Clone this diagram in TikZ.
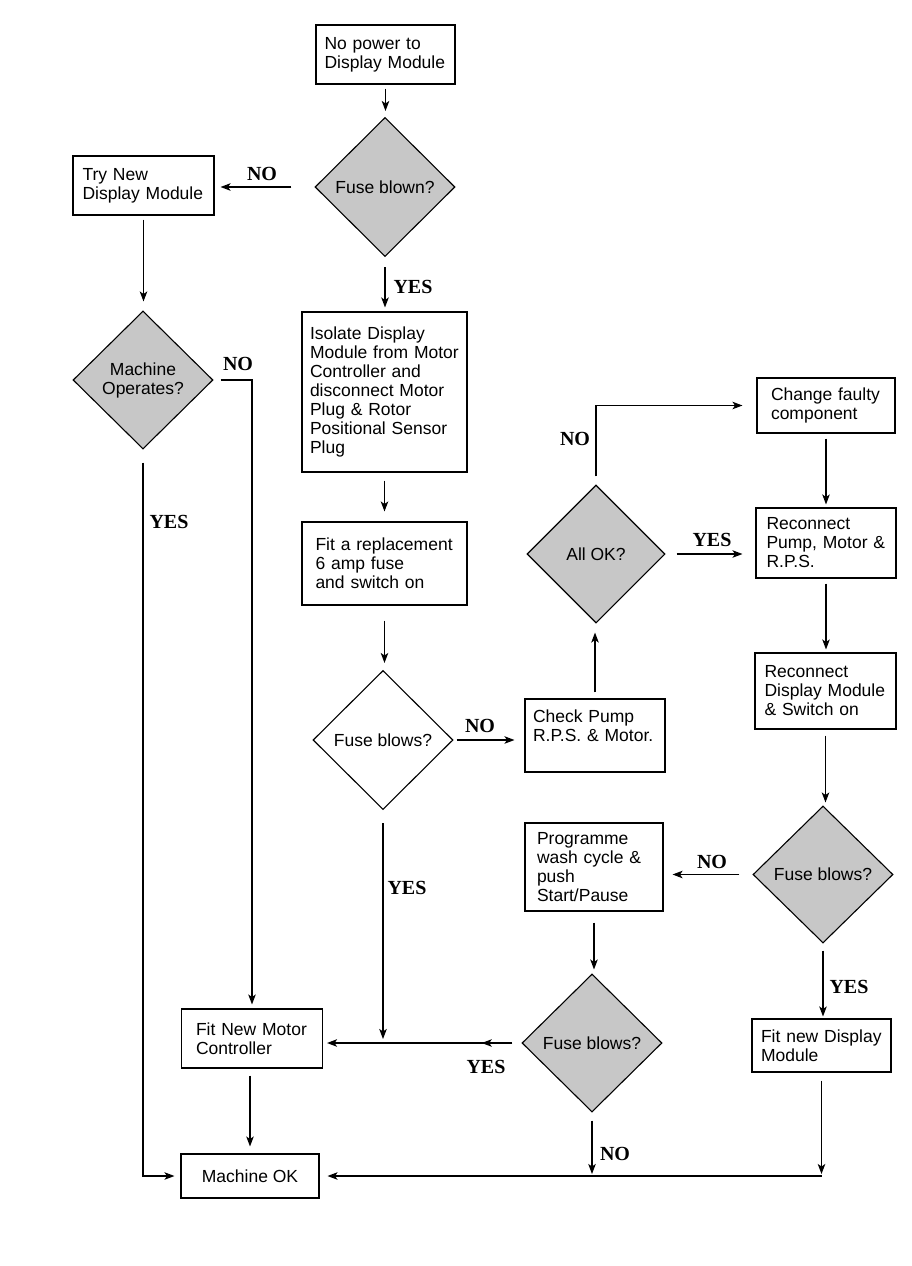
\documentclass[tikz,border=0pt]{standalone}
\usepackage{fontspec}
\setmainfont{Liberation Sans}
\newfontfamily\lblfont{Liberation Serif}
\usetikzlibrary{shapes.geometric,arrows.meta,decorations.markings}
\definecolor{shade}{gray}{0.78}
\begin{document}
\begin{tikzpicture}[x=1pt,y=-1pt,
  txt/.style={font=\fontsize{17.5}{19}\selectfont},
  box/.style={txt, draw, line width=1.1pt, align=left, inner xsep=0pt, inner ysep=0pt},
  dia/.style={txt, draw, line width=1.1pt, diamond, aspect=1, inner sep=0pt, align=center, fill=shade},
  lbl/.style={font=\lblfont\bfseries\fontsize{20}{22}\selectfont, inner sep=0pt},
  arr/.style={line width=1.1pt, -{Stealth[length=10pt,width=7.5pt,inset=2.5pt]}},
  ln/.style={line width=1.1pt},
]
\useasboundingbox (0,0) rectangle (911,1266);

% boxes
\node[box, minimum width=139pt, minimum height=59pt, text width=122pt] (start) at (385.5,54.5) {No power to\\Display Module};
\node[box, minimum width=141pt, minimum height=59pt, text width=122pt] (try) at (143.5,185.5) {Try New\\Display Module};
\node[box, minimum width=165pt, minimum height=160pt, text width=149pt] (iso) at (384.5,392) {Isolate Display\\Module from Motor\\Controller and\\disconnect Motor\\Plug \& Rotor\\Positional Sensor\\Plug};
\node[box, minimum width=165pt, minimum height=83pt, text width=138pt] (fit6) at (384.5,563.5) {Fit a replacement\\6 amp fuse\\and switch on};
\node[box, minimum width=140pt, minimum height=73pt, text width=124pt] (check) at (595,735.5) {Check Pump\\R.P.S. \& Motor.\\\mbox{}};
\node[box, minimum width=138pt, minimum height=55pt, text width=110pt] (change) at (826,405.5) {Change faulty\\component};
\node[box, minimum width=140pt, minimum height=70pt, text width=119pt] (rpump) at (826,543) {Reconnect\\Pump, Motor \&\\R.P.S.};
\node[box, minimum width=141pt, minimum height=76pt, text width=122pt] (rdisp) at (825.5,691) {Reconnect\\Display Module\\\& Switch on};
\node[box, minimum width=138pt, minimum height=88pt, text width=114pt] (prog) at (594,867) {Programme\\wash cycle \&\\push\\Start/Pause};
\node[box, minimum width=141pt, minimum height=59pt, text width=112pt] (fitmc) at (252,1038.5) {Fit New Motor\\Controller};
\node[box, minimum width=138pt, minimum height=44pt, align=center] (ok) at (250,1176) {Machine OK};
\node[box, minimum width=139pt, minimum height=53pt, text width=121pt] (fitdisp) at (821.5,1045.5) {Fit new Display\\Module};

% decisions
\node[dia, minimum width=140pt, minimum height=139pt] (d1) at (385,187) {Fuse blown?};
\node[dia, minimum width=140pt, minimum height=138pt] (d2) at (143,380) {Machine\\Operates?};
\node[dia, fill=white, minimum width=140pt, minimum height=139pt] (d3) at (383,740) {Fuse blows?};
\node[dia, minimum width=138pt, minimum height=138pt] (d4) at (596,554) {All OK?};
\node[dia, minimum width=140pt, minimum height=137pt] (d5) at (823,874.5) {Fuse blows?};
\node[dia, minimum width=140pt, minimum height=138pt] (d6) at (592,1043) {Fuse blows?};

% junction coordinates
\coordinate (j1) at (d3.south |- d6.west);
\coordinate (j2) at (d6.south |- ok.east);
\coordinate (j3) at (fitdisp.south |- ok.east);

% connectors
\draw[arr, shorten <=4pt, shorten >=6pt] (start.south) -- (start.south |- d1.north);
\draw[arr, shorten <=23pt, shorten >=6pt] (d1.west) -- (d1.west -| try.east);
\draw[arr, shorten <=10pt, shorten >=4pt] (d1.south) -- (d1.south |- iso.north);
\draw[arr, shorten <=4pt, shorten >=9pt] (try.south) -- (try.south |- d2.north);
\draw[arr, shorten <=7pt, shorten >=4pt] (d2.east) -| (fitmc.north);
\draw[arr, shorten <=13pt, shorten >=6pt] (d2.south) |- (ok.west);
\draw[arr, shorten <=8pt, shorten >=10pt] (iso.south) -- (fit6.north);
\draw[arr, shorten <=15pt, shorten >=7pt] (fit6.south) -- (fit6.south |- d3.north);
\draw[arr, shorten <=3pt, shorten >=10pt] (d3.east) -- (d3.east -| check.west);
\draw[arr, shorten <=6pt, shorten >=9pt] (check.north) -- (check.north |- d4.south);
\draw[arr, shorten <=8pt, shorten >=14pt] (d4.north) |- (change.west);
\draw[arr, shorten <=11pt, shorten >=13pt] (d4.east) -- (d4.east -| rpump.west);
\draw[arr, shorten <=5pt, shorten >=3pt] (change.south) -- (rpump.north);
\draw[arr, shorten <=5pt, shorten >=3pt] (rpump.south) -- (rpump.south |- rdisp.north);
\draw[arr, shorten <=6pt, shorten >=3pt] (rdisp.south) -- (rdisp.south |- d5.north);
\draw[arr, shorten <=13pt, shorten >=9pt] (d5.west) -- (d5.west -| prog.east);
\draw[arr, shorten <=11pt, shorten >=4pt] (prog.south) -- (prog.south |- d6.north);
\draw[arr, shorten <=9pt, shorten >=4pt, postaction={decorate},
  decoration={markings, mark=at position 0.2 with {\arrow{Stealth[length=10pt,width=7.5pt,inset=2.5pt]}}}]
  (d6.west) -- (d6.west -| fitmc.east);
\draw[arr, shorten <=13pt, shorten >=4pt] (d3.south) -- (j1);
\draw[arr, shorten <=8pt, shorten >=2pt] (d6.south) -- (j2);
\draw[arr, shorten <=7pt, shorten >=2pt] (d5.south) -- (d5.south |- fitdisp.north);
\draw[arr, shorten <=8pt, shorten >=2pt] (fitdisp.south) -- (j3);
\draw[arr, shorten >=8pt] (j3) -- (ok.east);
\draw[arr, shorten <=7pt, shorten >=7pt] (ok.north |- fitmc.south) -- (ok.north);

% labels
\node[lbl] (l1) at (262,174) {NO};
\node[lbl] (l2) at (413,287) {YES};
\node[lbl] (l3) at (238,364) {NO};
\node[lbl] (l4) at (169,522) {YES};
\node[lbl] (l5) at (575,439) {NO};
\node[lbl] (l6) at (712,540) {YES};
\node[lbl] (l7) at (480,726) {NO};
\node[lbl] (l8) at (407,888) {YES};
\node[lbl] (l9) at (712,862) {NO};
\node[lbl] (l10) at (849,987) {YES};
\node[lbl] (l11) at (486,1067) {YES};
\node[lbl] (l12) at (615,1154) {NO};
\end{tikzpicture}
\end{document}
